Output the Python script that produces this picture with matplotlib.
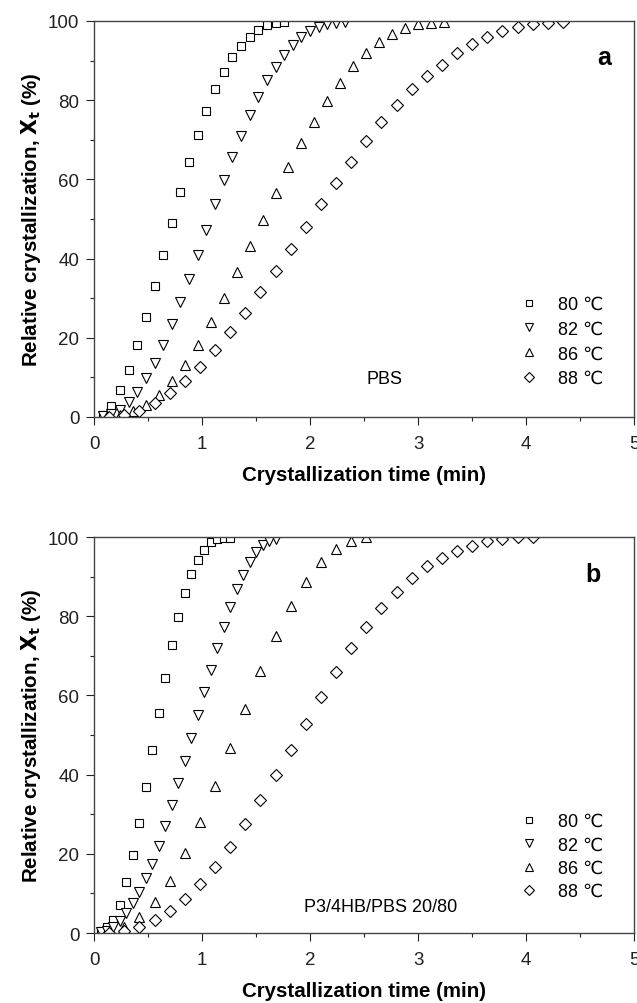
import matplotlib
matplotlib.use("Agg")
import matplotlib.pyplot as plt
from matplotlib.ticker import MultipleLocator

plt.rcParams['font.family'] = ['Liberation Sans', 'DejaVu Sans']

# Panel a: PBS
a_t80 = [0.08, 0.16, 0.24, 0.32, 0.40, 0.48, 0.56, 0.64, 0.72, 0.80, 0.88, 0.96, 1.04, 1.12,
         1.20, 1.28, 1.36, 1.44, 1.52, 1.60, 1.68, 1.76]
a_x80 = [0.5, 2.8, 6.8, 11.9, 18.3, 25.3, 33.0, 40.9, 48.9, 56.9, 64.3, 71.2, 77.3, 82.7,
         87.2, 90.8, 93.8, 96.0, 97.7, 99.0, 99.5, 99.8]
a_t82 = [0.08, 0.16, 0.24, 0.32, 0.40, 0.48, 0.56, 0.64, 0.72, 0.80, 0.88, 0.96, 1.04, 1.12,
         1.20, 1.28, 1.36, 1.44, 1.52, 1.60, 1.68, 1.76, 1.84, 1.92, 2.00, 2.08, 2.16, 2.24, 2.32]
a_x82 = [0.3, 0.8, 1.8, 3.8, 6.4, 9.8, 13.6, 18.3, 23.4, 29.0, 34.8, 41.0, 47.3, 53.7,
         59.8, 65.7, 71.0, 76.3, 80.9, 85.1, 88.5, 91.5, 94.0, 95.9, 97.4, 98.6, 99.2, 99.5, 99.8]
a_t86 = [0.12, 0.24, 0.36, 0.48, 0.60, 0.72, 0.84, 0.96, 1.08, 1.20, 1.32, 1.44, 1.56, 1.68,
         1.80, 1.92, 2.04, 2.16, 2.28, 2.40, 2.52, 2.64, 2.76, 2.88, 3.00, 3.12, 3.24]
a_x86 = [0.2, 0.6, 1.5, 3.0, 5.6, 9.0, 13.2, 18.3, 23.9, 30.0, 36.5, 43.1, 49.7, 56.5,
         63.0, 69.1, 74.6, 79.9, 84.3, 88.6, 91.9, 94.6, 96.7, 98.2, 99.2, 99.5, 99.8]
a_t88 = [0.14, 0.28, 0.42, 0.56, 0.70, 0.84, 0.98, 1.12, 1.26, 1.40, 1.54, 1.68, 1.82, 1.96,
         2.10, 2.24, 2.38, 2.52, 2.66, 2.80, 2.94, 3.08, 3.22, 3.36, 3.50, 3.64, 3.78, 3.92,
         4.06, 4.20, 4.34]
a_x88 = [0.1, 0.5, 1.6, 3.5, 6.0, 9.2, 12.7, 16.9, 21.4, 26.3, 31.5, 36.9, 42.4, 47.9,
         53.7, 59.2, 64.5, 69.6, 74.4, 78.8, 82.7, 86.2, 88.9, 91.9, 94.2, 95.9, 97.4, 98.4,
         99.2, 99.5, 99.7]

# Panel b: P3/4HB/PBS 20/80
b_t80 = [0.06, 0.12, 0.18, 0.24, 0.30, 0.36, 0.42, 0.48, 0.54, 0.60, 0.66, 0.72, 0.78, 0.84,
         0.90, 0.96, 1.02, 1.08, 1.14, 1.20, 1.26]
b_x80 = [0.5, 1.4, 3.3, 7.1, 12.8, 19.8, 27.8, 36.9, 46.2, 55.6, 64.4, 72.8, 79.9, 85.9,
         90.7, 94.3, 96.8, 98.7, 99.5, 99.7, 99.8]
b_t82 = [0.06, 0.12, 0.18, 0.24, 0.30, 0.36, 0.42, 0.48, 0.54, 0.60, 0.66, 0.72, 0.78, 0.84,
         0.90, 0.96, 1.02, 1.08, 1.14, 1.20, 1.26, 1.32, 1.38, 1.44, 1.50, 1.56, 1.62, 1.68]
b_x82 = [0.2, 0.6, 1.5, 3.0, 5.0, 7.5, 10.4, 13.8, 17.4, 22.0, 27.1, 32.4, 37.9, 43.5,
         49.2, 55.1, 60.8, 66.5, 72.1, 77.4, 82.4, 86.9, 90.4, 93.8, 96.1, 98.0, 99.1, 99.5]
b_t86 = [0.14, 0.28, 0.42, 0.56, 0.70, 0.84, 0.98, 1.12, 1.26, 1.40, 1.54, 1.68, 1.82, 1.96,
         2.10, 2.24, 2.38, 2.52]
b_x86 = [0.3, 1.5, 4.0, 7.8, 13.2, 20.1, 28.1, 37.2, 46.7, 56.6, 66.2, 75.1, 82.5, 88.7,
         93.6, 97.0, 99.1, 99.9]
b_t88 = [0.14, 0.28, 0.42, 0.56, 0.70, 0.84, 0.98, 1.12, 1.26, 1.40, 1.54, 1.68, 1.82, 1.96,
         2.10, 2.24, 2.38, 2.52, 2.66, 2.80, 2.94, 3.08, 3.22, 3.36, 3.50, 3.64, 3.78, 3.92, 4.06]
b_x88 = [0.1, 0.6, 1.6, 3.2, 5.6, 8.6, 12.4, 16.7, 21.8, 27.5, 33.6, 39.9, 46.3, 52.9,
         59.5, 66.0, 71.9, 77.4, 82.1, 86.2, 89.6, 92.6, 94.8, 96.5, 97.8, 98.9, 99.5, 99.9, 99.9]

labels = ["80 \u2103", "82 \u2103", "86 \u2103", "88 \u2103"]
markers = ["s", "v", "^", "D"]
sizes = [6, 7.5, 7.5, 6]

fig = plt.figure(figsize=(6.37, 10.04), dpi=100)
ax_a = fig.add_axes([0.1476, 0.5837, 0.848, 0.3944])
ax_b = fig.add_axes([0.1476, 0.0697, 0.848, 0.3944])


def draw_panel(ax, series, letter, letter_pos, sample, sample_pos, lspace, leg_y):
    for (t, x), m, s, lab in zip(series, markers, sizes, labels):
        ax.plot(t, x, linestyle="none", marker=m, markersize=s, markerfacecolor="white",
                markeredgecolor="black", markeredgewidth=0.8, label=lab, clip_on=True)
    ax.set_xlim(0, 5)
    ax.set_ylim(0, 100)
    ax.xaxis.set_major_locator(MultipleLocator(1))
    ax.xaxis.set_minor_locator(MultipleLocator(0.5))
    ax.yaxis.set_major_locator(MultipleLocator(20))
    ax.yaxis.set_minor_locator(MultipleLocator(10))
    ax.tick_params(which="major", direction="out", length=6, width=0.8, labelsize=13.5,
                   colors="#222222")
    ax.tick_params(which="minor", direction="out", length=3, width=0.8, colors="#222222")
    ax.tick_params(axis="x", which="major", pad=7)
    ax.tick_params(axis="y", which="major", pad=4.5)
    for sp in ax.spines.values():
        sp.set_linewidth(1.0)
        sp.set_color("#444444")
    ax.set_xlabel("Crystallization time (min)", fontsize=14.8, fontweight="bold", labelpad=9)
    ax.set_ylabel(r"Relative crystallization, $\mathbf{X_t}$ (%)", fontsize=14.8,
                  fontweight="bold", labelpad=4)
    ax.text(letter_pos[0], letter_pos[1], letter, fontsize=18, fontweight="bold",
            ha="center", va="center")
    ax.text(sample_pos[0], sample_pos[1], sample, fontsize=13, ha="center", va="center")
    leg = ax.legend(loc="lower left", bbox_to_anchor=(0.789, leg_y), frameon=False,
                    fontsize=13, handlelength=1.0, handletextpad=1.1, labelspacing=lspace,
                    borderpad=0, borderaxespad=0, markerscale=0.8)
    return leg


draw_panel(ax_a, [(a_t80, a_x80), (a_t82, a_x82), (a_t86, a_x86), (a_t88, a_x88)],
           "a", (4.72, 90.8), "PBS", (2.69, 9.6), 0.42, 0.076)
draw_panel(ax_b, [(b_t80, b_x80), (b_t82, b_x82), (b_t86, b_x86), (b_t88, b_x88)],
           "b", (4.62, 90.7), "P3/4HB/PBS 20/80", (2.65, 6.8), 0.35, 0.083)

fig.savefig("out.png", dpi=100)
